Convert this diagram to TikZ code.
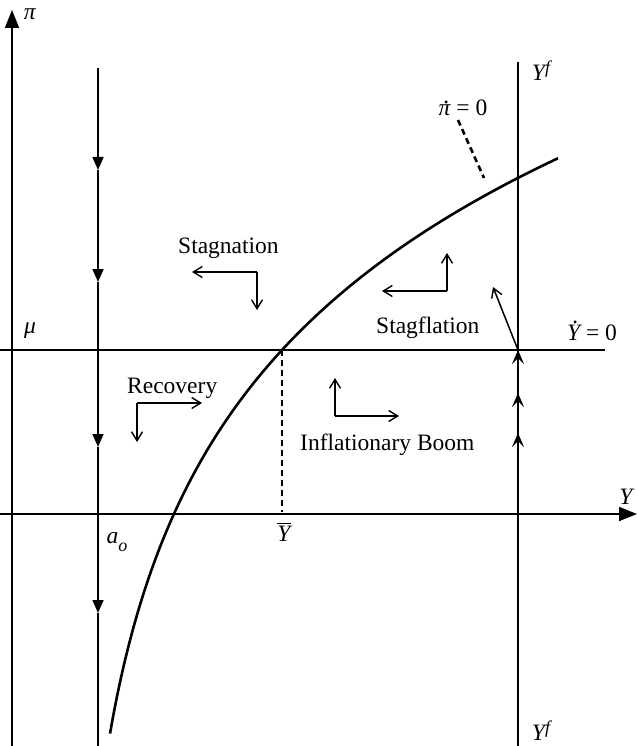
\documentclass[tikz,border=0pt]{standalone}
\usepackage{fontspec}
\setmainfont{Liberation Serif}
\usetikzlibrary{arrows.meta}
\newcommand\dotacc[2]{\ooalign{#1\cr\hidewidth\kern0.18em\raise#2\hbox{.}\hidewidth\cr}}
\newcommand\baracc[1]{\vbox{\hrule height 1.3pt\kern1.5pt\hbox{#1}}}
\begin{document}
\begin{tikzpicture}[x=1pt,y=-1pt,
  lbl/.style={inner sep=0pt,font=\fontsize{23.5}{26}\selectfont},
  axis/.style={line width=1.8pt},
  thin/.style={line width=1.6pt},
  curve/.style={line width=2.6pt},
  dotln/.style={line width=2.6pt,dash pattern=on 6pt off 4pt},
  bigtip/.style={-{Triangle[length=18pt,width=14pt]}},
  downtip/.style={-{Triangle[length=13pt,width=11pt]}},
  barb/.style={line width=1.5pt,-{Straight Barb[length=9pt,width=11pt,line width=1.4pt]}},
  uptip/.style={line width=1.6pt,-{Stealth[length=14pt,width=12pt,inset=6pt]}}]
\useasboundingbox (0,0) rectangle (637,746);
% coordinates
\coordinate (pib) at (12,746);
\coordinate (pit) at (12,10);
\coordinate (yl) at (0,514);
\coordinate (yr) at (637,514);
\coordinate (ml) at (0,350);
\coordinate (mr) at (605,350);
\coordinate (at) at (98,68);
\coordinate (a1) at (98,170);
\coordinate (a2) at (98,282);
\coordinate (a3) at (98,447);
\coordinate (a4) at (98,613);
\coordinate (ab) at (98,746);
\coordinate (ft) at (518,62);
\coordinate (fb) at (518,746);
\coordinate (fm) at (518,350);
\coordinate (u1) at (518,433);
\coordinate (u2) at (518,393);
\coordinate (ud) at (518,477);
\coordinate (eq) at (282,350);
\coordinate (eqb) at (282,512);
% axes
\draw[axis,bigtip] (pib) -- (pit);
\draw[axis,bigtip] (yl) -- (yr);
\draw[line width=2.2pt] (ml) -- (mr);
% vertical a_o line
\draw[thin,downtip] (at) -- (a1);
\draw[thin,downtip] (a1) -- (a2);
\draw[thin,downtip] (a2) -- (a3);
\draw[thin,downtip] (a3) -- (a4);
\draw[thin] (a4) -- (ab);
% Y^f line
\draw[thin] (ft) -- (fb);
\draw[line width=2.2pt,dash pattern=on 5pt off 2pt] (fm) -- (ud);
\draw[uptip] (ud) -- (u1);
\draw[uptip] (u1) -- (u2);
\draw[uptip] (u2) -- (fm);
% curve
\draw[curve] plot[domain=110:558,samples=120,smooth] (\x,{350-230*(ln(\x-70)-ln(212))});
% dotted lines
\draw[dotln] (eq) -- (eqb);
\coordinate (pd1) at (458,120);
\coordinate (pd2) at (484,178);
\draw[dotln] (pd1) -- (pd2);
% L arrows
\coordinate (sc) at (257,272);
\coordinate (sl) at (192,272);
\coordinate (sd) at (257,310);
\draw[barb] (sc) -- (sl);
\draw[barb] (sc) -- (sd);
\coordinate (rc) at (137,403);
\coordinate (rr) at (202,403);
\coordinate (rd) at (137,442);
\draw[barb] (rc) -- (rr);
\draw[barb] (rc) -- (rd);
\coordinate (ic) at (335,416);
\coordinate (iu) at (335,378);
\coordinate (ir) at (399,416);
\draw[barb] (ic) -- (iu);
\draw[barb] (ic) -- (ir);
\coordinate (gc) at (447,291);
\coordinate (gu) at (447,253);
\coordinate (gl) at (382,291);
\draw[barb] (gc) -- (gu);
\draw[barb] (gc) -- (gl);
\coordinate (sa) at (493,287);
\draw[barb] (fm) -- (sa);
% labels
\node[lbl,anchor=center] (pil) at (30,14) {\textit{π}};
\node[lbl,anchor=center] (yll) at (627,497) {\textit{Y}};
\node[lbl,anchor=center] (mul) at (30,331) {\textit{μ}};
\node[lbl,anchor=base] (ydot) at (592,340) {\textit{\dotacc{Y}{0.72em}} = 0};
\node[lbl,anchor=base] (pidot) at (463,116) {\textit{\dotacc{π}{0.52em}} = 0};
\node[lbl,anchor=center] (yf1) at (541,71) {\textit{Y\raisebox{0.3em}{\fontsize{18}{18}\selectfont f}}};
\node[lbl,anchor=center] (yf2) at (541,731) {\textit{Y\raisebox{0.3em}{\fontsize{18}{18}\selectfont f}}};
\node[lbl,anchor=center] (aol) at (117,542) {\textit{a\raisebox{-0.35em}{\fontsize{18}{18}\selectfont o}}};
\node[lbl,anchor=center] (ybar) at (284,532) {\baracc{\itshape Y}};
\node[lbl,anchor=base west] (stag) at (178,253) {Stagnation};
\node[lbl,anchor=base west] (stfl) at (376,333) {Stagflation};
\node[lbl,anchor=base west] (rec) at (127,393) {Recovery};
\node[lbl,anchor=base west] (boom) at (300,450) {Inflationary Boom};
\end{tikzpicture}
\end{document}
